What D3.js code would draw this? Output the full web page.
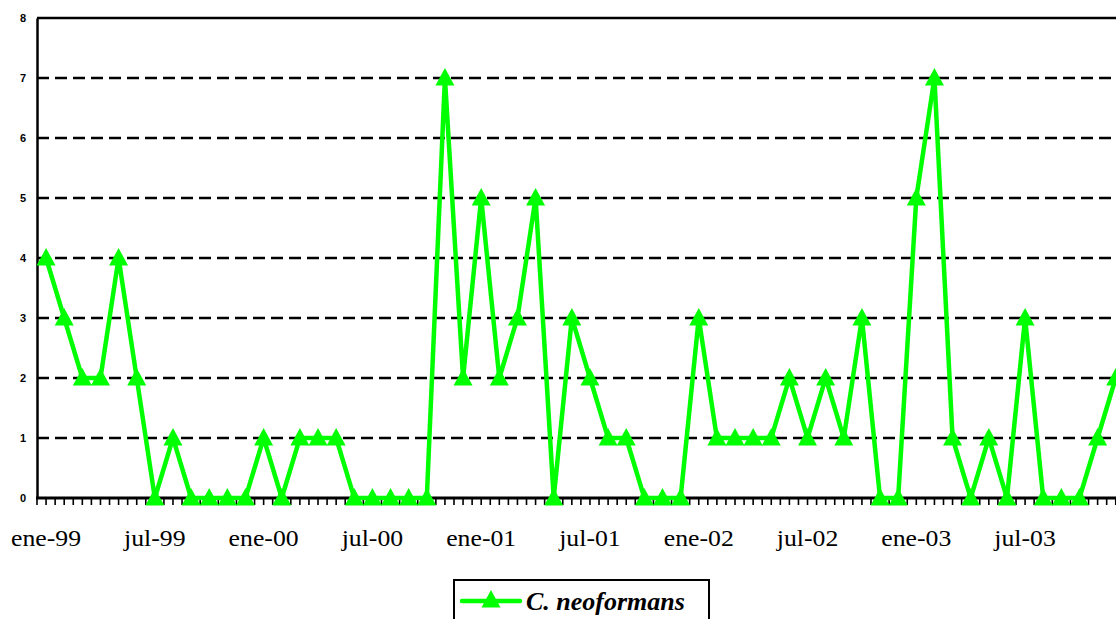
<!DOCTYPE html>
<html>
<head>
<meta charset="utf-8">
<script src="https://cdn.jsdelivr.net/npm/d3@7"></script>
<style>
  html, body { margin: 0; padding: 0; background: #fff; overflow: hidden; }
  svg { display: block; }
  .serif { font-family: "Liberation Serif", "Times New Roman", Times, "DejaVu Serif", serif; }
  .sans { font-family: Arial, "Liberation Sans", sans-serif; }
</style>
</head>
<body>
<svg id="chart" width="1116" height="619"></svg>
<script>
// Monthly case counts, Jan 1999 – Dec 2003
const months = ["ene","feb","mar","abr","may","jun","jul","ago","sep","oct","nov","dic"];
const years = ["99","00","01","02","03"];
const categories = years.flatMap(y => months.map(m => m + "-" + y));
const seriesName = "C. neoformans";
const values = [
  4, 3, 2, 2, 4, 2, 0, 1, 0, 0, 0, 0,   // 1999
  1, 0, 1, 1, 1, 0, 0, 0, 0, 0, 7, 2,   // 2000
  5, 2, 3, 5, 0, 3, 2, 1, 1, 0, 0, 0,   // 2001
  3, 1, 1, 1, 1, 2, 1, 2, 1, 3, 0, 0,   // 2002
  5, 7, 1, 0, 1, 0, 3, 0, 0, 0, 1, 2    // 2003
];
const yTicks = [0, 1, 2, 3, 4, 5, 6, 7, 8];
const xLabelEvery = 6;

const svg = d3.select("#chart");
const green = "#00ff00";

const plot = { left: 37, top: 18, bottom: 498, right: 37 + 18.13 * categories.length };

const x = d3.scaleBand().domain(categories).range([plot.left, plot.right]).padding(0);
const y = d3.scaleLinear().domain([0, 8]).range([plot.bottom, plot.top]);
const cx = c => x(c) + x.bandwidth() / 2;

// Dashed horizontal gridlines
svg.append("g")
  .selectAll("line")
  .data(yTicks.filter(v => v > 0 && v < 8))
  .join("line")
  .attr("x1", plot.left).attr("x2", plot.right)
  .attr("y1", d => y(d)).attr("y2", d => y(d))
  .attr("stroke", "#000").attr("stroke-width", 2.4)
  .attr("stroke-dasharray", "12,6");

// Top border
svg.append("line")
  .attr("x1", plot.left).attr("x2", plot.right)
  .attr("y1", y(8)).attr("y2", y(8))
  .attr("stroke", "#000").attr("stroke-width", 2.5);

// Y axis
const yAxis = d3.axisLeft(y).tickValues(yTicks).tickSize(0).tickPadding(11);
const gy = svg.append("g").attr("transform", `translate(${plot.left},0)`).call(yAxis);
gy.attr("font-family", null).attr("font-size", null);
gy.select(".domain").attr("stroke", "#000").attr("stroke-width", 2.5);
gy.selectAll("text")
  .attr("class", "sans")
  .attr("font-weight", "bold").attr("font-size", 11).attr("fill", "#000");

// X axis: ticks at category boundaries and centres
const tickPositions = [];
categories.forEach(c => { tickPositions.push(x(c)); tickPositions.push(cx(c)); });
svg.append("g")
  .selectAll("line")
  .data(tickPositions)
  .join("line")
  .attr("x1", d => d).attr("x2", d => d)
  .attr("y1", plot.bottom).attr("y2", plot.bottom + 7)
  .attr("stroke", "#000").attr("stroke-width", 1.6);

svg.append("line")
  .attr("x1", plot.left - 1).attr("x2", plot.right)
  .attr("y1", plot.bottom).attr("y2", plot.bottom)
  .attr("stroke", "#000").attr("stroke-width", 3);

// Category labels every six months (slightly widened glyphs)
svg.append("g")
  .selectAll("text")
  .data(categories.filter((c, i) => i % xLabelEvery === 0))
  .join("text")
  .attr("class", "serif")
  .attr("transform", d => `translate(${cx(d)},546) scale(1.12,1)`)
  .attr("text-anchor", "middle")
  .attr("font-size", 23).attr("fill", "#000")
  .text(d => d);

// Series line
const line = d3.line().x((d, i) => cx(categories[i])).y(d => y(d));
svg.append("path")
  .datum(values)
  .attr("d", line)
  .attr("fill", "none").attr("stroke", green)
  .attr("stroke-width", 4.5).attr("stroke-linejoin", "miter");

// Triangle markers
const tri = "M0,-10L9.5,7.5L-9.5,7.5Z";
svg.append("g")
  .selectAll("path")
  .data(values)
  .join("path")
  .attr("d", tri)
  .attr("transform", (d, i) => `translate(${cx(categories[i])},${y(d)})`)
  .attr("fill", green);

// Legend
const lg = svg.append("g");
lg.append("rect")
  .attr("x", 454).attr("y", 580).attr("width", 255).attr("height", 60)
  .attr("fill", "#fff").attr("stroke", "#000").attr("stroke-width", 2);
lg.append("line")
  .attr("x1", 462).attr("x2", 520).attr("y1", 601).attr("y2", 601)
  .attr("stroke", green).attr("stroke-width", 4.5).attr("stroke-linecap", "round");
lg.append("path").attr("d", tri).attr("transform", "translate(491,600)").attr("fill", green);
lg.append("text")
  .attr("class", "serif")
  .attr("x", 526).attr("y", 610)
  .attr("font-size", 26).attr("font-weight", "bold").attr("font-style", "italic")
  .attr("fill", "#000")
  .text(seriesName);
</script>
</body>
</html>
